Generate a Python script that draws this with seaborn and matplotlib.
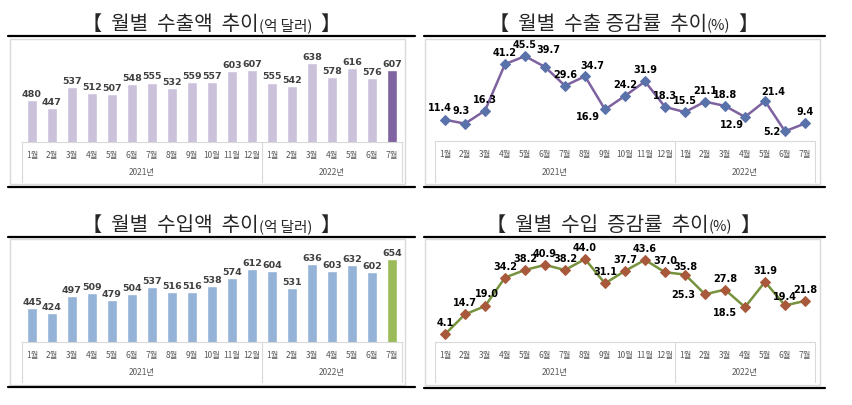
import numpy as np
import pandas as pd
import matplotlib.pyplot as plt
import seaborn as sns
from matplotlib.lines import Line2D
from matplotlib.patches import Rectangle

# 데이터
months = ['1월', '2월', '3월', '4월', '5월', '6월', '7월', '8월', '9월', '10월', '11월', '12월',
          '1월', '2월', '3월', '4월', '5월', '6월', '7월']
years = ['2021년', '2022년']
export_amt = [480, 447, 537, 512, 507, 548, 555, 532, 559, 557, 603, 607,
              555, 542, 638, 578, 616, 576, 607]
import_amt = [445, 424, 497, 509, 479, 504, 537, 516, 516, 538, 574, 612,
              604, 531, 636, 603, 632, 602, 654]
export_rate = [11.4, 9.3, 16.3, 41.2, 45.5, 39.7, 29.6, 34.7, 16.9, 24.2, 31.9, 18.3,
               15.5, 21.1, 18.8, 12.9, 21.4, 5.2, 9.4]
import_rate = [4.1, 14.7, 19.0, 34.2, 38.2, 40.9, 38.2, 44.0, 31.1, 37.7, 43.6, 37.0,
               35.8, 25.3, 27.8, 18.5, 31.9, 19.4, 21.8]

sns.set_style('white')
plt.rcParams['font.family'] = ['Noto Sans CJK KR', 'DejaVu Sans']

W, H = 853, 406
fig = plt.figure(figsize=(W / 100, H / 100), dpi=100)
renderer = fig.canvas.get_renderer()

def fx(x):
    return x / W

def fy(y):
    return 1 - y / H

def add_title(cx, by, parts):
    # 크기가 다른 글자 조각을 이어 붙여 가운데 정렬
    texts = [fig.text(0, fy(by), t, fontsize=s, va='baseline', ha='left') for t, s in parts]
    widths = [t.get_window_extent(renderer).width for t in texts]
    x = cx - sum(widths) / 2
    for t, w in zip(texts, widths):
        t.set_x(fx(x))
        x += w

def frame(x0, x1, top, bottom, bx0, bx1, btop, bbot):
    fig.add_artist(Line2D([fx(x0), fx(x1)], [fy(top), fy(top)], color='black', lw=1.6))
    fig.add_artist(Line2D([fx(x0), fx(x1)], [fy(bottom), fy(bottom)], color='black', lw=1.6))
    fig.add_artist(Rectangle((fx(bx0), fy(bbot)), fx(bx1) - fx(bx0), fy(btop) - fy(bbot),
                             fill=False, edgecolor='#d9d9d9', lw=1))

def make_axes(x0, x1, top, bottom, table_bottom):
    ax = fig.add_axes([fx(x0), fy(bottom), fx(x1) - fx(x0), fy(top) - fy(bottom)])
    for s in ['left', 'right', 'top']:
        ax.spines[s].set_visible(False)
    ax.spines['bottom'].set_color('#d9d9d9')
    # 연도 구분 표
    step = (x1 - x0) / 19
    for xp in [x0, x0 + step * 12, x1]:
        fig.add_artist(Line2D([fx(xp), fx(xp)], [fy(bottom), fy(table_bottom)],
                              color='#d9d9d9', lw=0.8))
    ymid = bottom + (table_bottom - bottom) * 0.75
    fig.text(fx(x0 + step * 6), fy(ymid), years[0], fontsize=6, color='#595959',
             ha='center', va='center')
    fig.text(fx(x0 + step * 15.5), fy(ymid), years[1], fontsize=6, color='#595959',
             ha='center', va='center')
    return ax

def finish_axes(ax, ylim):
    ax.set_xlim(-0.5, 18.5)
    ax.set_ylim(*ylim)
    ax.set_yticks([])
    ax.set_xticks(range(len(months)))
    ax.set_xticklabels(months, fontsize=6, color='#595959')
    ax.tick_params(axis='x', length=0, pad=6)
    ax.set_xlabel('')
    ax.set_ylabel('')

def bar_panel(x0, x1, top, bottom, table_bottom, values, base, last):
    ax = make_axes(x0, x1, top, bottom, table_bottom)
    df = pd.DataFrame({'idx': np.arange(len(values)), 'val': values})
    pal = [base] * (len(values) - 1) + [last]
    sns.barplot(data=df, x='idx', y='val', hue='idx', palette=pal, legend=False,
                width=0.5, saturation=1, ax=ax)
    finish_axes(ax, (300, 720))
    for i, v in enumerate(values):
        ax.annotate(str(v), (i, v), xytext=(0, 2), textcoords='offset pixels',
                    ha='center', va='bottom', fontsize=6.8, fontweight='bold',
                    color='#404040', family='DejaVu Sans')

def line_panel(x0, x1, top, bottom, table_bottom, values, lcolor, mcolor, offsets):
    ax = make_axes(x0, x1, top, bottom, table_bottom)
    df = pd.DataFrame({'idx': np.arange(len(values)), 'val': values})
    sns.lineplot(data=df, x='idx', y='val', color=lcolor, lw=1.8, marker='D',
                 markersize=5, markerfacecolor=mcolor, markeredgecolor=mcolor, ax=ax)
    finish_axes(ax, (0, 52))
    for i, v in enumerate(values):
        dx, dy = offsets.get(i, (0, 12))
        ax.annotate(f'{v:.1f}', (i, v), xytext=(dx, dy), textcoords='offset pixels',
                    ha='center', va='center', fontsize=7, fontweight='bold',
                    color='black', family='DejaVu Sans')

# 1) 월별 수출액 추이
add_title(212, 30, [('【  월별  수출액  추이', 14.5), ('(억 달러)', 10.5), ('  】', 14.5)])
frame(8, 415, 37, 188, 10, 405, 40, 185)
bar_panel(22, 402, 45, 143, 183, export_amt, '#ccc1da', '#8064a2')

# 2) 월별 수출 증감률 추이
add_title(624, 30, [('【  월별  수출 증감률  추이', 14.5), ('(%)', 10.5), ('  】', 14.5)])
frame(424, 825, 37, 188, 425, 820, 40, 185)
exp_off = {0: (-5, 13), 1: (-4, 14), 5: (3, 18), 7: (7, 11), 8: (-17, -7),
           15: (-13, -7), 16: (8, 10), 17: (-13, 0)}
line_panel(435, 815, 45, 142, 183, export_rate, '#7e62a0', '#5a72aa', exp_off)

# 3) 월별 수입액 추이
add_title(212, 231, [('【  월별  수입액  추이', 14.5), ('(억 달러)', 10.5), ('  】', 14.5)])
frame(8, 415, 238, 388, 10, 405, 240, 386)
bar_panel(22, 402, 245, 343, 383, import_amt, '#95b3d7', '#9bbb59')

# 4) 월별 수입 증감률 추이
add_title(624, 231, [('【  월별  수입  증감률  추이', 14.5), ('(%)', 10.5), ('  】', 14.5)])
frame(424, 825, 238, 389, 425, 820, 240, 386)
imp_off = {2: (2, 13), 12: (0, 9), 13: (-22, 0), 15: (-20, -5), 17: (0, 9)}
line_panel(435, 815, 245, 343, 383, import_rate, '#76923c', '#a9593b', imp_off)

fig.savefig('out.png', dpi=100)
